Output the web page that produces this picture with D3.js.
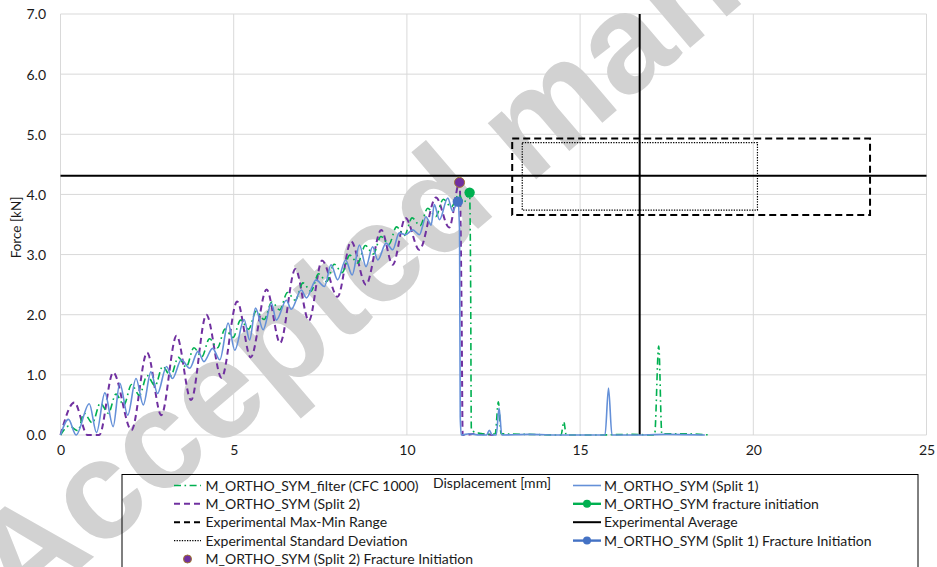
<!DOCTYPE html>
<html>
<head>
<meta charset="utf-8">
<script src="https://cdn.jsdelivr.net/npm/d3@7/dist/d3.min.js"></script>
<style>
  body { margin: 0; background: #fff; }
  svg { display: block; }
  text { font-family: Lato, "Open Sans", sans-serif; fill: #1a1a1a; }
</style>
</head>
<body>
<svg id="chart" width="937" height="567"></svg>
<script>
// Force–displacement data [displacement mm, force kN]
const split1 = [[0,0],[0.23,0.26],[0.45,0.00],[0.83,0.52],[1.04,0.04],[1.28,0.70],[1.52,0.14],[1.71,0.86],[1.94,0.33],[2.18,0.94],[2.39,0.50],[2.61,1.05],[2.80,0.69],[3.06,1.14],[3.23,0.94],[3.49,1.25],[3.73,1.11],[3.97,1.39],[4.14,1.22],[4.39,1.44],[4.60,1.25],[4.84,1.86],[5.03,1.41],[5.30,1.92],[5.46,1.58],[5.63,2.11],[5.85,1.75],[6.09,2.19],[6.23,1.91],[6.52,2.24],[6.66,2.09],[6.95,2.41],[7.10,2.28],[7.38,2.58],[7.62,2.47],[7.81,2.83],[8.00,2.58],[8.23,2.91],[8.42,2.66],[8.63,3.16],[8.82,2.80],[9.01,3.13],[9.16,2.91],[9.40,3.19],[9.59,3.08],[9.78,3.36],[9.95,3.33],[10.17,3.41],[10.36,3.33],[10.55,3.63],[10.70,3.49],[10.79,3.83],[10.94,3.58],[11.18,3.94],[11.32,3.72],[11.47,3.88],[11.52,3.40],[11.54,0.30],[11.57,0.00],[11.80,0.02],[12.10,0.00],[12.30,0.00],[12.38,0.08],[12.46,0.00],[12.58,0.00],[12.66,0.45],[12.74,0.00],[13.50,0.01],[14.50,0.00],[15.50,0.00],[15.72,0.00],[15.82,0.78],[15.92,0.00],[16.50,0.00],[17.50,0.01],[18.60,0.00]];

const split2 = [[0,0],[0.40,0.54],[0.78,0.00],[1.12,0.00],[1.52,1.04],[2.05,0.08],[2.50,1.37],[2.91,0.33],[3.35,1.65],[3.77,0.58],[4.21,2.00],[4.65,0.95],[5.10,2.22],[5.49,1.29],[5.95,2.42],[6.34,1.53],[6.78,2.76],[7.17,1.90],[7.55,2.90],[8.00,2.30],[8.39,3.22],[8.82,2.50],[9.26,3.41],[9.59,2.83],[9.96,3.61],[10.36,3.08],[10.84,3.95],[11.22,3.45],[11.52,4.20],[11.58,2.00],[11.61,0.00],[12.00,0.02],[12.50,0.00]];

const filtered = [[0,0],[0.25,0.15],[0.50,0.07],[0.68,0.36],[0.92,0.20],[1.15,0.53],[1.38,0.36],[1.60,0.68],[1.83,0.50],[2.05,0.84],[2.28,0.66],[2.50,0.99],[2.73,0.82],[2.95,1.14],[3.18,0.98],[3.40,1.29],[3.63,1.13],[3.85,1.45],[4.08,1.30],[4.30,1.60],[4.53,1.45],[4.75,1.76],[4.98,1.62],[5.20,1.91],[5.43,1.76],[5.65,2.06],[5.88,1.92],[6.10,2.21],[6.33,2.08],[6.55,2.37],[6.78,2.24],[7.00,2.53],[7.23,2.39],[7.45,2.68],[7.68,2.55],[7.90,2.84],[8.13,2.70],[8.35,2.99],[8.58,2.86],[8.80,3.15],[9.03,3.01],[9.25,3.30],[9.48,3.17],[9.70,3.46],[9.93,3.32],[10.15,3.61],[10.38,3.48],[10.60,3.77],[10.83,3.63],[11.05,3.92],[11.28,3.79],[11.50,4.00],[11.64,3.86],[11.81,4.03],[11.84,2.50],[11.86,0.10],[11.95,0.05],[12.10,0.03],[12.30,0.01],[12.55,0.02],[12.64,0.55],[12.72,0.02],[13.50,0.01],[14.45,0.00],[14.53,0.22],[14.60,0.00],[15.50,0.00],[16.50,0.01],[17.15,0.00],[17.27,1.48],[17.36,0.02],[18.00,0.02],[18.77,0.00]];

// Fracture initiation points [displacement, force]
const fractureSplit1 = [11.47, 3.88];
const fractureSplit2 = [11.52, 4.20];
const fractureFilter = [11.81, 4.03];

// Experimental corridor
const expAvgDisp = 16.72;
const expAvgForce = 4.31;
const expRange = { x0: 13.04, x1: 23.37, y0: 3.66, y1: 4.93 };
const expStd = { x0: 13.33, x1: 20.12, y0: 3.74, y1: 4.86 };

const xTicks = [0, 5, 10, 15, 20, 25];
const yTicks = [0, 1, 2, 3, 4, 5, 6, 7];
const yTickLabels = ["0.0", "1.0", "2.0", "3.0", "4.0", "5.0", "6.0", "7.0"];

const svg = d3.select("#chart");
const x = d3.scaleLinear().domain([0, 25]).range([60.5, 926.5]);
const y = d3.scaleLinear().domain([0, 7]).range([435, 14]);

// grid
const grid = svg.append("g");
grid.selectAll("line.v").data(xTicks).join("line")
  .attr("x1", d => x(d)).attr("x2", d => x(d))
  .attr("y1", y(0)).attr("y2", y(7))
  .attr("stroke", "#d9d9d9").attr("stroke-width", 1);
grid.selectAll("line.h").data(yTicks).join("line")
  .attr("x1", x(0)).attr("x2", x(25))
  .attr("y1", d => y(d)).attr("y2", d => y(d))
  .attr("stroke", "#d9d9d9").attr("stroke-width", 1);

// watermark
svg.append("text")
  .attr("transform", "translate(20,620) rotate(-40.5)")
  .style("font-family", "'Liberation Sans', Arial, sans-serif")
  .style("font-weight", "bold")
  .style("font-size", "140px")
  .style("fill", "#d2d2d2")
  .text("Accepted manuscript");

// axis labels
const xAxis = d3.axisBottom(x).tickValues(xTicks).tickSize(0).tickPadding(0).tickFormat(d3.format("d"));
svg.append("g").attr("transform", `translate(0,${y(0)})`).call(xAxis)
  .call(g => g.select(".domain").remove())
  .call(g => g.selectAll("text").attr("y", 10).attr("dy", "0.71em")
    .style("font-family", "Lato, sans-serif").style("font-size", "14px").attr("fill", "#1a1a1a"));

const yAxis = d3.axisLeft(y).tickValues(yTicks).tickSize(0).tickPadding(0)
  .tickFormat((d, i) => yTickLabels[i]);
svg.append("g").attr("transform", `translate(46,0)`).call(yAxis)
  .call(g => g.select(".domain").remove())
  .call(g => g.selectAll("text").attr("x", 0).attr("dy", "0.35em")
    .style("font-family", "Lato, sans-serif").style("font-size", "14px").attr("fill", "#1a1a1a"));

svg.append("text")
  .attr("transform", `translate(21,${y(3.45)}) rotate(-90)`)
  .attr("text-anchor", "middle")
  .style("font-size", "13.5px")
  .text("Force [kN]");

// experimental corridor
const rectPath = r => `M${x(r.x0)},${y(r.y1)}H${x(r.x1)}V${y(r.y0)}H${x(r.x0)}Z`;
svg.append("path").attr("d", rectPath(expRange))
  .attr("fill", "none").attr("stroke", "#000").attr("stroke-width", 2).attr("stroke-dasharray", "7,4");
svg.append("path").attr("d", rectPath(expStd))
  .attr("fill", "none").attr("stroke", "#000").attr("stroke-width", 1.2).attr("stroke-dasharray", "1.3,1.3");
svg.append("line")
  .attr("x1", x(0)).attr("x2", x(25)).attr("y1", y(expAvgForce)).attr("y2", y(expAvgForce))
  .attr("stroke", "#000").attr("stroke-width", 2);
svg.append("line")
  .attr("x1", x(expAvgDisp)).attr("x2", x(expAvgDisp)).attr("y1", y(0)).attr("y2", y(7))
  .attr("stroke", "#000").attr("stroke-width", 2);

// simulation curves
const line = d3.line().x(d => x(d[0])).y(d => y(d[1])).curve(d3.curveMonotoneX);
svg.append("path").datum(split2).attr("d", line)
  .attr("fill", "none").attr("stroke", "#7030a0").attr("stroke-width", 2).attr("stroke-dasharray", "6,4");
svg.append("path").datum(filtered).attr("d", line)
  .attr("fill", "none").attr("stroke", "#00b050").attr("stroke-width", 1.6).attr("stroke-dasharray", "7,3.5,1.6,3.5");
svg.append("path").datum(split1).attr("d", line)
  .attr("fill", "none").attr("stroke", "#6490d8").attr("stroke-width", 1.6);

// fracture initiation markers
svg.append("circle").attr("cx", x(fractureSplit2[0])).attr("cy", y(fractureSplit2[1])).attr("r", 5)
  .attr("fill", "#7030a0").attr("stroke", "#a07830").attr("stroke-width", 1);
svg.append("circle").attr("cx", x(fractureFilter[0])).attr("cy", y(fractureFilter[1])).attr("r", 5.2)
  .attr("fill", "#00b050");
svg.append("circle").attr("cx", x(fractureSplit1[0])).attr("cy", y(fractureSplit1[1])).attr("r", 5.2)
  .attr("fill", "#4472c4");

// legend
svg.append("rect").attr("x", 122).attr("y", 474.5).attr("width", 796).attr("height", 120)
  .attr("fill", "none").attr("stroke", "#000").attr("stroke-width", 1);

svg.append("text").attr("x", 433).attr("y", 487.5).style("font-size", "14px").text("Displacement [mm]");

const rowY = [485.5, 503.8, 522.2, 540.6, 559];
const legendLeft = [
  { label: "M_ORTHO_SYM_filter (CFC 1000)", stroke: "#00b050", width: 1.6, dash: "7,3.5,1.6,3.5" },
  { label: "M_ORTHO_SYM (Split 2)", stroke: "#7030a0", width: 2, dash: "6,4" },
  { label: "Experimental Max-Min Range", stroke: "#000", width: 2, dash: "6,4" },
  { label: "Experimental Standard Deviation", stroke: "#000", width: 1.2, dash: "1.3,1.3" },
  { label: "M_ORTHO_SYM (Split 2) Fracture Initiation", marker: "#7030a0", markerStroke: "#a07830" }
];
const legendRight = [
  { label: "M_ORTHO_SYM (Split 1)", stroke: "#6490d8", width: 1.6 },
  { label: "M_ORTHO_SYM fracture initiation", stroke: "#00b050", width: 2.4, marker: "#00b050" },
  { label: "Experimental Average", stroke: "#000", width: 2 },
  { label: "M_ORTHO_SYM (Split 1) Fracture Initiation", stroke: "#4472c4", width: 2.4, marker: "#4472c4" }
];

function drawLegend(items, x0, x1, tx) {
  items.forEach((it, i) => {
    const cy = rowY[i];
    if (it.stroke) {
      svg.append("line").attr("x1", x0).attr("x2", x1).attr("y1", cy).attr("y2", cy)
        .attr("stroke", it.stroke).attr("stroke-width", it.width)
        .attr("stroke-dasharray", it.dash || null);
    }
    if (it.marker) {
      svg.append("circle").attr("cx", (x0 + x1) / 2).attr("cy", cy).attr("r", 4)
        .attr("fill", it.marker).attr("stroke", it.markerStroke || "none").attr("stroke-width", 1);
    }
    svg.append("text").attr("x", tx).attr("y", cy).attr("dy", "0.36em")
      .style("font-size", "14px").text(it.label);
  });
}
drawLegend(legendLeft, 174, 201, 205.5);
drawLegend(legendRight, 573, 601, 604);
</script>
</body>
</html>
